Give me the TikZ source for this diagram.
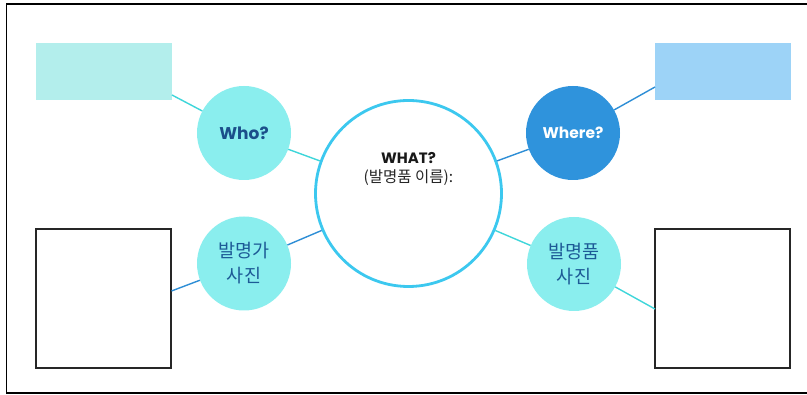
\documentclass[tikz,border=0pt]{standalone}
\usepackage{fontspec}
\setmainfont{Poppins}
\newfontfamily\kr{Noto Sans CJK KR}
\definecolor{boxcyan}{HTML}{B3EEEC}
\definecolor{boxblue}{HTML}{9DD3F7}
\definecolor{circcyan}{HTML}{8AEEEE}
\definecolor{circblue}{HTML}{2F93DC}
\definecolor{ringcyan}{HTML}{3CC8EF}
\definecolor{linecyan}{HTML}{3ED6DA}
\definecolor{lineblue}{HTML}{2E8ED6}
\definecolor{txtblue}{HTML}{1B4F8A}
\definecolor{krblue}{HTML}{1D5A96}
\tikzset{
  fillbox/.style={draw=none, minimum width=136pt, minimum height=57pt, inner sep=0pt},
  framebox/.style={draw=black!85, line width=1.4pt, minimum width=135pt, minimum height=139pt, inner sep=0pt},
  smallcirc/.style={circle, draw=none, minimum size=94pt, inner sep=0pt, align=center},
  cyanline/.style={draw=linecyan, line width=1.4pt},
  blueline/.style={draw=lineblue, line width=1.4pt},
}
\begin{document}
\begin{tikzpicture}[x=1pt,y=-1pt]
\useasboundingbox (0,0) rectangle (807,395);
\fill[white] (0,0) rectangle (807,395);
\draw[line width=1.6pt] (810,4) -- (6.5,4) -- (6.5,393) -- (810,393);
% boxes
\node[fillbox, fill=boxcyan] (tlbox) at (104,71.5) {};
\node[fillbox, fill=boxblue] (trbox) at (722.5,71.5) {};
\node[framebox] (blbox) at (103.5,298.5) {};
\node[framebox] (brbox) at (722.5,298.5) {};
% circles
\node[circle, draw=ringcyan, line width=2.8pt, fill=white, minimum size=186pt, inner sep=0pt] (what) at (408.5,193.5) {};
\node[smallcirc, fill=circcyan, text=txtblue, font=\fontsize{17}{20}\selectfont\bfseries] (who) at (244,133) {Who?};
\node[smallcirc, fill=circblue, text=white, font=\fontsize{15.5}{20}\selectfont\bfseries] (where) at (573,133) {Where?};
\node[smallcirc, fill=circcyan, text=krblue, font=\kr\fontsize{18.5}{25}\selectfont] (inventor) at (244,263.5) {발명가\\사진};
\node[smallcirc, fill=circcyan, text=krblue, font=\kr\fontsize{18.5}{25}\selectfont] (invention) at (574,264) {발명품\\사진};
% center text
\node[font=\fontsize{15}{17}\selectfont\bfseries, text=black!90] (whatlbl) at (408.5,158) {WHAT?};
\node[font=\kr\fontsize{15.5}{18}\selectfont, text=black!85, anchor=north] (namelbl) at (408.5,166) {(발명품 이름):};
% connectors
\coordinate (tlc) at (172,95);
\coordinate (trc) at (655,87);
\coordinate (blc) at (171.5,291);
\coordinate (brc) at (655,309);
\path[cyanline] (tlc) -- (who);
\path[cyanline] (who) -- (what);
\path[blueline] (what) -- (where);
\path[blueline] (where) -- (trc);
\path[blueline] (what) -- (inventor);
\path[blueline] (inventor) -- (blc);
\path[cyanline] (what) -- (invention);
\path[cyanline] (invention) -- (brc);
\end{tikzpicture}
\end{document}
